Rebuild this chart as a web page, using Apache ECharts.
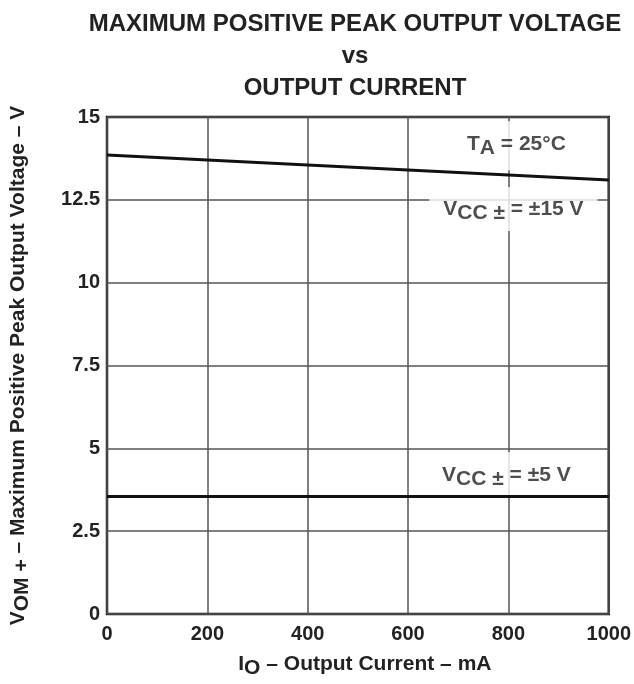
<!DOCTYPE html>
<html><head><meta charset="utf-8">
<script src="https://cdn.jsdelivr.net/npm/echarts@6/dist/echarts.min.js"></script>
<style>html,body{margin:0;padding:0;background:#fff}#c{width:634px;height:684px}</style>
</head><body><div id="c"></div>
<script>
// Data
var xTicks = [0, 200, 400, 600, 800, 1000];
var yTicks = [0, 2.5, 5, 7.5, 10, 12.5, 15];
var currentMA = [0, 1000];
var vcc15 = [13.85, 13.1];
var vcc5 = [3.55, 3.55];
var annotations = [
  {x: 816, y: 14.13, text: '{v|T}{s|A}{n| = 25°C}', pad: [8, 14, 12, 14]},
  {x: 810, y: 12.22, text: '{v|V}{s|CC ±}{n| = ±15 V}', pad: [8, 14, 7, 14]},
  {x: 796, y: 4.22, text: '{v|V}{s|CC ±}{n| = ±5 V}', pad: [9, 14, 6, 14]}
];

var FONT = '"Liberation Sans", Arial, sans-serif';
var chart = echarts.init(document.getElementById('c'));
function rich(fs) {
  return {
    v: {fontSize: fs, fontWeight: 'bold', color: '#222', fontFamily: FONT},
    s: {fontSize: fs, fontWeight: 'bold', color: '#222', fontFamily: FONT, padding: [Math.round(fs * 0.4), 0, 0, 0]},
    n: {fontSize: fs, fontWeight: 'bold', color: '#222', fontFamily: FONT}
  };
}
function pairs(xs, ys) { return xs.map(function (x, i) { return [x, ys[i]]; }); }

chart.setOption({
  animation: false,
  backgroundColor: '#fff',
  graphic: [{
    type: 'text', x: 355, y: 8,
    style: {
      text: 'MAXIMUM POSITIVE PEAK OUTPUT VOLTAGE\nvs\nOUTPUT CURRENT',
      align: 'center', verticalAlign: 'top',
      font: 'bold 24px ' + FONT, fill: '#222', lineHeight: 32
    }
  }],
  grid: {left: 104, right: 25, top: 117, bottom: 66, show: true, borderColor: '#111', borderWidth: 2.5, containLabel: false},
  xAxis: {
    type: 'value', min: 0, max: 1000, interval: 200,
    axisLine: {show: false}, axisTick: {show: false},
    splitLine: {show: true, lineStyle: {color: '#555', width: 1.5}},
    axisLabel: {margin: 10, fontSize: 20, fontWeight: 'bold', color: '#222', fontFamily: FONT,
      formatter: function (v) { return String(v); }},
    name: '{v|I}{s|O}{n| – Output Current – mA}',
    nameLocation: 'middle', nameGap: 36,
    nameTextStyle: {rich: rich(21), padding: [0, 0, 0, 14]}
  },
  yAxis: {
    type: 'value', min: 0, max: 15, interval: 2.5,
    axisLine: {show: false}, axisTick: {show: false},
    splitLine: {show: true, lineStyle: {color: '#555', width: 1.5}},
    axisLabel: {margin: 7, fontSize: 20, fontWeight: 'bold', color: '#222', fontFamily: FONT},
    name: '{v|V}{s|OM +}{n| – Maximum Positive Peak Output Voltage – V}',
    nameLocation: 'middle', nameGap: 74,
    nameTextStyle: {rich: rich(21)}
  },
  series: [
    {type: 'line', data: pairs(currentMA, vcc15), symbol: 'none', lineStyle: {color: '#111', width: 3}, z: 4},
    {type: 'line', data: pairs(currentMA, vcc5), symbol: 'none', lineStyle: {color: '#111', width: 3}, z: 4},
    {type: 'scatter', symbolSize: 0, z: 2, silent: true,
      data: annotations.map(function (a) {
        return {value: [a.x, a.y], text: a.text, label: {padding: a.pad}};
      }),
      label: {show: true, position: 'inside', backgroundColor: '#fff',
        formatter: function (p) { return p.data.text; }, rich: rich(21)}
    }
  ]
});
</script></body></html>
